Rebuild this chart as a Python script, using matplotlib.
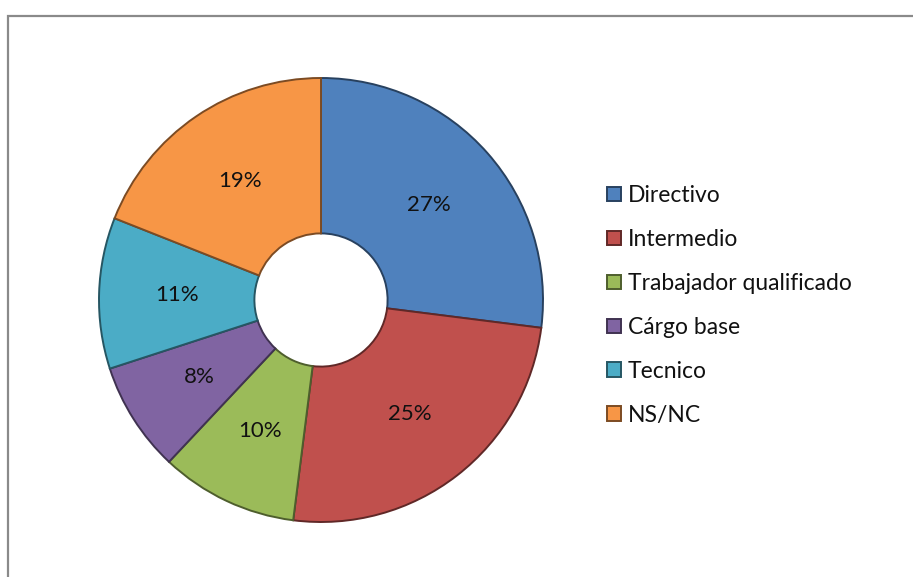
import matplotlib.pyplot as plt
from matplotlib.patches import Rectangle
import matplotlib.colors as mcolors

labels = ["Directivo", "Intermedio", "Trabajador qualificado", "Cárgo base", "Tecnico", "NS/NC"]
values = [27, 25, 10, 8, 11, 19]
colors = ["#4F81BD", "#C0504D", "#9BBB59", "#8064A2", "#4BACC6", "#F79646"]

plt.rcParams['font.family'] = ['Lato', 'DejaVu Sans']

W, H = 913, 577
fig = plt.figure(figsize=(W / 100, H / 100), dpi=100)

# outer frame, cut off at right and bottom like the screenshot
fig.add_artist(Rectangle((7.5 / W, -0.2), 2.0, (H - 15.5) / H + 0.2,
                         transform=fig.transFigure, fill=False,
                         edgecolor="#8a8a8a", linewidth=1.6))

# pie centre ~ (321, 300) px, outer radius ~222 px
cx, cy, r = 321, 300, 222
ax = fig.add_axes([(cx - r) / W, (H - cy - r) / H, 2 * r / W, 2 * r / H])

wedges, texts, autotexts = ax.pie(
    values, colors=colors, startangle=90, counterclock=False,
    autopct="%d%%", pctdistance=0.65,
    wedgeprops=dict(width=0.70, linewidth=1.4),
    textprops=dict(fontsize=16, color="#111111"))

for w, c in zip(wedges, colors):
    rgb = mcolors.to_rgb(c)
    w.set_edgecolor(tuple(v * 0.5 for v in rgb))

ax.set_xlim(-1, 1)
ax.set_ylim(-1, 1)
ax.set_aspect("equal")
ax.axis("off")

leg = fig.legend(wedges, labels, loc="upper left",
                 bbox_to_anchor=(598 / W, (H - 176) / H),
                 frameon=False, fontsize=16.5, handlelength=0.6, handleheight=0.6,
                 handletextpad=0.3, labelspacing=1.0, borderaxespad=0)
for t in leg.get_texts():
    t.set_color("#111111")

fig.savefig("out.png", dpi=100)
